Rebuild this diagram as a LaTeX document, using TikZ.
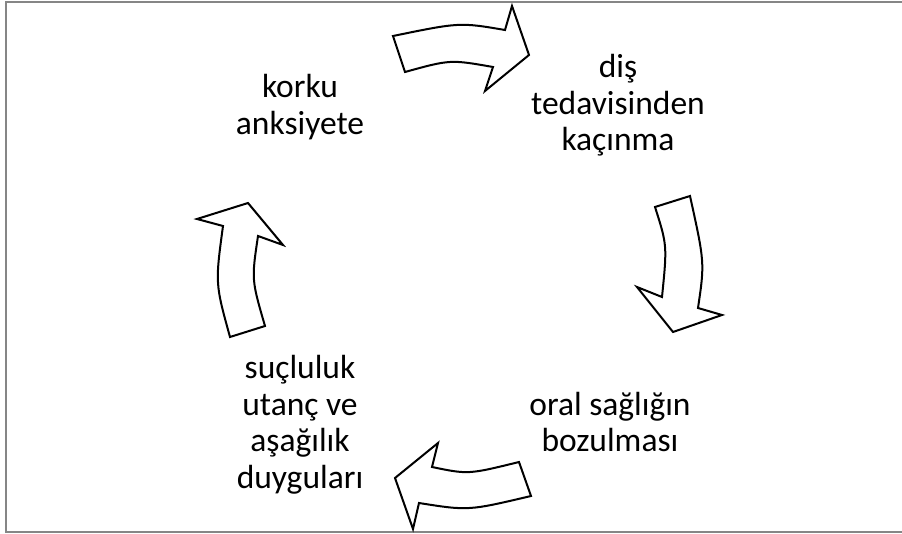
\documentclass[tikz,border=0pt]{standalone}
\usepackage{fontspec}
\setmainfont{Carlito}
\definecolor{framegray}{RGB}{134,134,134}
\tikzset{
  cyclearrow/.style={draw=black, fill=white, line width=2pt, line join=miter},
  lbl/.style={inner sep=0pt, anchor=base, font=\fontsize{33.5}{36.5}\selectfont},
  frameline/.style={draw=framegray, line width=2pt}
}
\newcommand{\stack}[1]{\setlength{\tabcolsep}{0pt}\begin{tabular}[t]{c}#1\end{tabular}}
\begin{document}
\begin{tikzpicture}[x=1pt,y=-1pt]
\useasboundingbox (0,0) rectangle (902,534);
% frame
\coordinate (f1) at (903,2);
\coordinate (f2) at (6,2);
\coordinate (f3) at (6,532);
\coordinate (f4) at (903,532);
\draw[frameline] (f1) -- (f2) -- (f3) -- (f4);

% labels
\node[lbl] (fear) at (300,98) {\stack{korku\\anksiyete}};
\node[lbl] (avoid) at (618,78) {\stack{diş\\tedavisinden\\kaçınma}};
\node[lbl] (oral) at (610,415) {\stack{oral sağlığın\\bozulması}};
\node[lbl] (guilt) at (300,379) {\stack{suçluluk\\utanç ve\\aşağılık\\duyguları}};

% arrow top (right)
\draw[cyclearrow] (393,36) .. controls (459.7,22.3) .. (505,30)
  -- (512,6) -- (529,55) -- (485,91) -- (493,67)
  .. controls (450.3,59.5) .. (405,72) -- cycle;

% arrow right (down)
\draw[cyclearrow] (655,207) -- (690,196)
  .. controls (704.7,262.7) .. (698,308)
  -- (722,315) -- (673,332) -- (637,287) -- (662,297)
  .. controls (667.2,245.3) .. (655,207) -- cycle;

% arrow bottom (left)
\draw[cyclearrow] (519,462) .. controls (468.2,474.5) .. (432,467)
  -- (438,443) -- (395,478) -- (413,529) -- (419,503)
  .. controls (468.3,510.8) .. (531,496) -- cycle;

% arrow left (up)
\draw[cyclearrow] (230,337) -- (265,326)
  .. controls (251.5,279.7) .. (258,236)
  -- (283,245) -- (248,203) -- (197,219) -- (223,226)
  .. controls (215.2,283.5) .. (230,337) -- cycle;
\end{tikzpicture}
\end{document}
